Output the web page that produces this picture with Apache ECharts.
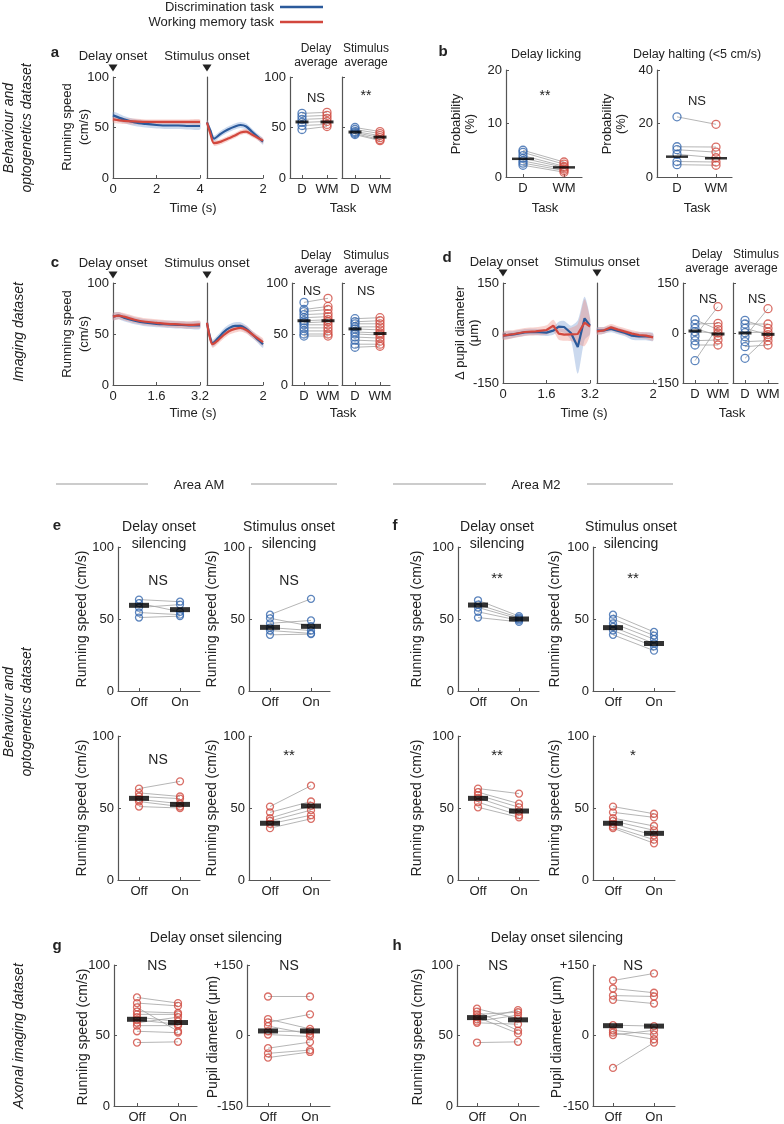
<!DOCTYPE html>
<html><head><meta charset="utf-8">
<script src="https://cdn.jsdelivr.net/npm/echarts@6.0.0/dist/echarts.min.js"></script>
<style>html,body{margin:0;padding:0;background:#fff}#c{width:784px;height:1124px}</style>
</head><body><div id="c"></div>
<script>
// ---------- DATA ----------
// Panel a: time courses (running speed, cm/s)
const aDelayT = [0, 0.5, 1, 1.5, 2, 2.5, 3, 3.5, 4];
const aDelayD = [62, 58, 55, 53.5, 52.5, 52, 52, 51.5, 51.5];
const aDelayDsem = [3.5, 3.5, 3.5, 3.5, 3.5, 3.5, 3.5, 3.5, 3.5];
const aDelayWM = [58, 56.5, 56, 55.5, 55.5, 55.5, 55.5, 55.5, 55.5];
const aDelayWMsem = [3, 3, 3, 2.5, 2.5, 2.5, 2.5, 2.5, 2.5];
const aStimT = [0, 0.12, 0.25, 0.5, 0.75, 1, 1.2, 1.4, 1.6, 1.8, 2];
const aStimD = [55, 47, 39, 44, 48, 51, 52.5, 51, 46, 41, 36];
const aStimDsem = [3, 3, 3, 3, 3, 3, 3, 3, 3, 3, 3];
const aStimWM = [55, 44, 34.5, 36, 39, 42, 45, 46, 43, 40, 37];
const aStimWMsem = [3, 3, 2.5, 2.5, 2.5, 2.5, 2.5, 2.5, 2.5, 2.5, 2.5];
// Panel a: averages (D, WM pairs)
const aDelayAvgD = [64, 61, 58, 55, 52, 48];
const aDelayAvgWM = [65, 62, 59, 56, 53, 51];
const aDelayAvgMean = [55.5, 55.5];
const aStimAvgD = [50, 48, 46, 45, 44, 43];
const aStimAvgWM = [46, 44, 42, 40, 38, 37];
const aStimAvgMean = [45.5, 40.5];
// Panel b: probability (%)
const bLickD = [5.0, 4.6, 4.0, 3.5, 3.0, 2.6, 2.2];
const bLickWM = [2.8, 2.4, 2.0, 1.8, 1.5, 1.2, 0.9];
const bLickMean = [3.4, 1.8];
const bHaltD = [22.5, 11.3, 10.2, 8.5, 5.8, 4.6];
const bHaltWM = [19.7, 11.2, 9.3, 7.2, 5.6, 4.4];
const bHaltMean = [7.6, 7.0];
// Panel c: time courses
const cDelayT = [0, 0.2, 0.4, 0.8, 1.2, 1.6, 2.0, 2.4, 2.8, 3.2];
const cDelayD = [67, 68, 66, 63, 61, 60, 59.5, 59, 58.5, 58.5];
const cDelayDsem = [3.5, 3.5, 3.5, 3.5, 3.5, 3.5, 3.5, 3.5, 3.5, 3.5];
const cDelayWM = [67, 68, 67, 64, 62, 61, 60, 59.5, 59, 59.5];
const cDelayWMsem = [3.5, 3.5, 3.5, 3.5, 3.5, 3.5, 3.5, 3.5, 3.5, 3.5];
const cStimT = [0, 0.1, 0.2, 0.4, 0.6, 0.8, 1.0, 1.2, 1.4, 1.6, 1.8, 2];
const cStimD = [61, 48, 41, 46, 52, 56, 58, 58, 55, 50, 45, 40];
const cStimDsem = [3.5, 3.5, 3.5, 3.5, 3.5, 3.5, 3.5, 3.5, 3.5, 3.5, 3.5, 3.5];
const cStimWM = [61, 47, 40, 44, 49, 53, 55, 56, 54, 50, 46, 42];
const cStimWMsem = [3.5, 3.5, 3.5, 3.5, 3.5, 3.5, 3.5, 3.5, 3.5, 3.5, 3.5, 3.5];
// Panel c: averages
const cDelayAvgD = [81, 74, 72, 69, 66, 63, 61, 59, 56, 53, 50, 48];
const cDelayAvgWM = [85, 77, 74, 70, 67, 64, 62, 59, 56, 53, 50, 48];
const cDelayAvgMean = [63, 63];
const cStimAvgD = [65, 62, 60, 57, 55, 52, 50, 47, 44, 40, 37];
const cStimAvgWM = [66, 63, 60, 57, 54, 51, 49, 46, 43, 40, 38];
const cStimAvgMean = [55, 50.5];
// Panel d: pupil diameter time courses (µm)
const dDelayT = [0, 0.4, 0.8, 1.2, 1.6, 1.85, 2.05, 2.25, 2.5, 2.75, 3.0, 3.2];
const dDelayD = [-8, -4, 2, 3, 1, 7, 19, 18, 0, -42, 44, 22];
const dDelayDsem = [10, 10, 10, 10, 10, 12, 15, 18, 22, 80, 65, 25];
const dDelayWM = [-8, -3, 3, 5, 9, 22, -2, -5, -4, -3, 31, 19];
const dDelayWMsem = [12, 12, 12, 12, 14, 18, 18, 18, 20, 30, 70, 25];
const dStimT = [0, 0.25, 0.5, 0.75, 1.0, 1.25, 1.5, 1.75, 2];
const dStimD = [7, 8, 12, 6, 0, -8, -10, -10, -12];
const dStimDsem = [10, 10, 10, 10, 10, 12, 12, 12, 12];
const dStimWM = [5, 8, 17, 10, 4, -2, -6, -8, -13];
const dStimWMsem = [10, 10, 10, 10, 10, 10, 10, 10, 10];
// Panel d: averages
const dDelayAvgD = [40, 27, 14, 4, -9, -23, -36, -83];
const dDelayAvgWM = [10, 29, -8, 0, 79, -21, -36, 19];
const dDelayAvgMean = [6, -3];
const dStimAvgD = [38, 27, 14, 1, -11, -26, -41, -76];
const dStimAvgWM = [14, 27, -5, 3, 73, -23, -36, -11];
const dStimAvgMean = [0, -4];
// Panel e (Area AM): running speed, Off/On
const eDelayOff = [63.5, 61, 58, 54.5, 51];
const eDelayOn = [62, 55, 60, 53, 52];
const eDelayMean = [59.5, 56.5];
const eStimOff = [53, 50.5, 47, 44, 42, 39];
const eStimOn = [64, 45, 49, 42, 40, 39.5];
const eStimMean = [44.2, 44.9];
const eDelayOff2 = [63.5, 60.5, 58, 56, 54.5, 51];
const eDelayOn2 = [68.5, 58, 56.5, 53, 51, 50];
const eDelayMean2 = [56.7, 52.5];
const eStimOff2 = [51, 47, 43, 41, 39, 36];
const eStimOn2 = [65.5, 54.5, 51.5, 48.5, 45, 42.5];
const eStimMean2 = [39.4, 51.4];
// Panel f (Area M2)
const fDelayOff = [63, 60, 58, 55, 51];
const fDelayOn = [52, 51, 50, 49, 48];
const fDelayMean = [59.7, 50];
const fStimOff = [53, 50, 47, 44.5, 42, 39];
const fStimOn = [41, 38.5, 36, 33, 31, 28];
const fStimMean = [44, 33];
const fDelayOff2 = [63.5, 61, 59, 57, 54, 50.5];
const fDelayOn2 = [60, 53, 50.5, 47.5, 45, 43.5];
const fDelayMean2 = [56.7, 47.9];
const fStimOff2 = [51, 47, 43, 41, 39, 37, 36];
const fStimOn2 = [46, 43.5, 37.5, 34.5, 31, 28, 25.5];
const fStimMean2 = [39.4, 32.4];
// Panel g
const gRunOff = [77, 73, 70, 67, 65, 63, 61, 59, 57, 53, 45];
const gRunOn = [73, 71, 53, 66, 65, 60, 58, 63, 57, 52, 45.5];
const gRunMean = [61.5, 59.2];
const gPupOff = [83, 35, 28, 20, 9, 2, -27, -38, -47];
const gPupOn = [83, 14, 45, 3, 9, -2, -14, -31, -35];
const gPupMean = [9.7, 9.7];
// Panel h
const hRunOff = [69, 67, 65, 63, 61.5, 60, 59, 45];
const hRunOn = [62, 53.5, 66.5, 51.5, 68, 64.5, 58, 45.5];
const hRunMean = [62.7, 61.1];
const hPupOff = [117, 100, 85, 76, 22, 11, 6, 1, -69];
const hPupOn = [132, 91, 83, 68, 20, 2, -8, 11, -15];
const hPupMean = [20.9, 20];
// tick / category labels
const taskLabels = ['D', 'WM'];
const lightLabels = ['Off', 'On'];

// ---------- STYLE ----------
const FONT = '"Liberation Sans", Arial, sans-serif';
const TXT = '#222';
const BLUE = '#2b5a9b', RED = '#d2473d';
const BLUE_C = '#3567ad', RED_C = '#cf4a40';
const BLUE_BAND = 'rgba(125,160,212,0.40)', RED_BAND = 'rgba(236,140,130,0.38)';

const grids = [], xAxes = [], yAxes = [], series = [], graphic = [];

function merge(a, b) {
  for (const k in b) {
    const v = b[k];
    if (v && typeof v === 'object' && !Array.isArray(v) && a[k] && typeof a[k] === 'object' && !Array.isArray(a[k])) merge(a[k], v);
    else a[k] = v;
  }
  return a;
}
function baseAxis() {
  return {
    type: 'value', splitLine: { show: false },
    axisLine: { show: true, onZero: false, lineStyle: { color: '#555', width: 1.2 } },
    axisTick: { show: true, inside: true, length: 3, lineStyle: { color: '#555', width: 1 } },
    axisLabel: { color: TXT, fontSize: 13, fontFamily: FONT, margin: 5 }
  };
}
function addGrid(L, T, W, H, xo, yo) {
  const gi = grids.length;
  grids.push({ left: L, top: T, width: W, height: H });
  xAxes.push(merge(merge(baseAxis(), { gridIndex: gi, position: 'bottom' }), xo));
  yAxes.push(merge(merge(baseAxis(), { gridIndex: gi, position: 'left', axisLabel: { margin: 4 } }), yo));
  return gi;
}
// shaded band (mean ± sem) drawn as a polygon through the axes' own scales
function band(gi, t, mean, sem, color) {
  series.push({
    type: 'custom', coordinateSystem: 'cartesian2d', xAxisIndex: gi, yAxisIndex: gi, silent: true, z: 1,
    data: [[t[0], mean[0]]],
    renderItem: function (params, api) {
      const up = t.map((x, i) => api.coord([x, mean[i] + sem[i]]));
      const lo = t.map((x, i) => api.coord([x, mean[i] - sem[i]])).reverse();
      return { type: 'polygon', shape: { points: up.concat(lo), smooth: 0.25 }, style: { fill: color } };
    }
  });
}
function curve(gi, t, mean, color, smooth) {
  series.push({ type: 'line', xAxisIndex: gi, yAxisIndex: gi, data: t.map((x, i) => [x, mean[i]]),
    symbol: 'none', smooth: smooth, lineStyle: { color: color, width: 2.2 }, silent: true, z: 3 });
}
function timePanel(gi, t, d, dsem, wm, wmsem, smooth) {
  band(gi, t, d, dsem, BLUE_BAND);
  band(gi, t, wm, wmsem, RED_BAND);
  curve(gi, t, d, BLUE, smooth);
  curve(gi, t, wm, RED, smooth);
}
function pairPanel(g, yo, off, on, mean, cOff, cOn, names, sty) {
  const unit = g.P1 - g.P0;
  const min = -(g.P0 - g.L) / unit, max = 1 + (g.R - g.P1) / unit;
  const gi = addGrid(g.L, g.T, g.R - g.L, g.H,
    { min: min, max: max, axisLabel: { customValues: [0, 1], formatter: v => names[Math.round(v)] }, axisTick: { customValues: [0, 1] } }, yo);
  off.forEach((v, i) => series.push({ type: 'line', xAxisIndex: gi, yAxisIndex: gi, data: [[0, v], [1, on[i]]],
    symbol: 'none', silent: true, lineStyle: { color: '#a2a2a2', width: 0.8 }, z: 2 }));
  series.push({ type: 'scatter', xAxisIndex: gi, yAxisIndex: gi, data: off.map(v => [0, v]), symbol: 'circle', symbolSize: sty.r,
    itemStyle: { color: 'rgba(255,255,255,0)', borderColor: cOff, borderWidth: 1.3 }, silent: true, z: 3 });
  series.push({ type: 'scatter', xAxisIndex: gi, yAxisIndex: gi, data: on.map(v => [1, v]), symbol: 'circle', symbolSize: sty.r,
    itemStyle: { color: 'rgba(255,255,255,0)', borderColor: cOn, borderWidth: 1.3 }, silent: true, z: 3 });
  series.push({ type: 'scatter', xAxisIndex: gi, yAxisIndex: gi, data: [[0, mean[0]], [1, mean[1]]], symbol: 'rect',
    symbolSize: [sty.bw, sty.bh], itemStyle: { color: '#000' }, silent: true, z: 4 });
  return gi;
}
function txt(s, x, y, o) {
  o = o || {};
  const size = o.size || 13;
  graphic.push({ type: 'text', x: x, y: y, rotation: o.rot || 0, silent: true, z: 20,
    style: { text: s, fill: o.color || TXT, fontSize: size, fontFamily: FONT, fontStyle: o.italic ? 'italic' : 'normal',
      fontWeight: o.bold ? 'bold' : 'normal', align: o.align || 'center', verticalAlign: 'middle', lineHeight: o.lh || Math.round(size * 1.2) } });
}
function hline(x1, x2, y, color, w) {
  graphic.push({ type: 'line', silent: true, z: 20, shape: { x1: x1, y1: y, x2: x2, y2: y }, style: { stroke: color, lineWidth: w } });
}
function tri(x, y) {
  graphic.push({ type: 'polygon', silent: true, z: 20, shape: { points: [[x - 4.5, y - 3.5], [x + 4.5, y - 3.5], [x, y + 3.5]] }, style: { fill: '#222' } });
}

const y100 = { min: 0, max: 100, interval: 50 };
const y100n = { min: 0, max: 100, interval: 50, axisLabel: { show: false } };
const ySmall = { r: 8, bw: 13, bh: 3 };
const yBig = { r: 7, bw: 20, bh: 5 };

// ---------- Panel a ----------
let gi = addGrid(113, 77, 87, 101, { min: 0, max: 4, interval: 2 }, y100);
timePanel(gi, aDelayT, aDelayD, aDelayDsem, aDelayWM, aDelayWMsem, 0.3);
gi = addGrid(207, 77, 56, 101, { min: 0, max: 2, interval: 2, axisLabel: { showMinLabel: false } }, { min: 0, max: 100, interval: 50, axisLabel: { show: false }, axisTick: { show: false } });
timePanel(gi, aStimT, aStimD, aStimDsem, aStimWM, aStimWMsem, 0.3);
pairPanel({ L: 290, P0: 302, P1: 327, R: 337, T: 77, H: 101 }, y100, aDelayAvgD, aDelayAvgWM, aDelayAvgMean, BLUE_C, RED_C, taskLabels, ySmall);
pairPanel({ L: 342, P0: 355, P1: 380, R: 390, T: 77, H: 101 }, y100n, aStimAvgD, aStimAvgWM, aStimAvgMean, BLUE_C, RED_C, taskLabels, ySmall);

// ---------- Panel b ----------
pairPanel({ L: 506, P0: 523, P1: 564, R: 582, T: 70, H: 107 }, { min: 0, max: 20, interval: 10 }, bLickD, bLickWM, bLickMean, BLUE_C, RED_C, taskLabels, { r: 8, bw: 22, bh: 2.5 });
pairPanel({ L: 657, P0: 677, P1: 716, R: 732, T: 70, H: 107 }, { min: 0, max: 40, interval: 20 }, bHaltD, bHaltWM, bHaltMean, BLUE_C, RED_C, taskLabels, { r: 8, bw: 22, bh: 2.5 });

// ---------- Panel c ----------
gi = addGrid(113, 283, 87, 102, { min: 0, max: 3.2, interval: 1.6 }, y100);
timePanel(gi, cDelayT, cDelayD, cDelayDsem, cDelayWM, cDelayWMsem, 0.3);
gi = addGrid(207, 283, 56, 102, { min: 0, max: 2, interval: 2, axisLabel: { showMinLabel: false } }, { min: 0, max: 100, interval: 50, axisLabel: { show: false }, axisTick: { show: false } });
timePanel(gi, cStimT, cStimD, cStimDsem, cStimWM, cStimWMsem, 0.3);
pairPanel({ L: 292, P0: 304, P1: 328, R: 338, T: 283, H: 102 }, y100, cDelayAvgD, cDelayAvgWM, cDelayAvgMean, BLUE_C, RED_C, taskLabels, ySmall);
pairPanel({ L: 342, P0: 355, P1: 380, R: 390, T: 283, H: 102 }, y100n, cStimAvgD, cStimAvgWM, cStimAvgMean, BLUE_C, RED_C, taskLabels, ySmall);

// ---------- Panel d ----------
const y150 = { min: -150, max: 150, interval: 150 };
gi = addGrid(503, 283, 87, 100, { min: 0, max: 3.2, interval: 1.6 }, y150);
timePanel(gi, dDelayT, dDelayD, dDelayDsem, dDelayWM, dDelayWMsem, false);
gi = addGrid(597, 283, 56, 100, { min: 0, max: 2, interval: 2, axisLabel: { showMinLabel: false } }, { min: -150, max: 150, interval: 150, axisLabel: { show: false }, axisTick: { show: false } });
timePanel(gi, dStimT, dStimD, dStimDsem, dStimWM, dStimWMsem, false);
pairPanel({ L: 683, P0: 695, P1: 718, R: 728, T: 283, H: 100 }, y150, dDelayAvgD, dDelayAvgWM, dDelayAvgMean, BLUE_C, RED_C, taskLabels, ySmall);
pairPanel({ L: 733, P0: 745, P1: 768, R: 778, T: 283, H: 100 }, { min: -150, max: 150, interval: 150, axisLabel: { show: false } }, dStimAvgD, dStimAvgWM, dStimAvgMean, BLUE_C, RED_C, taskLabels, ySmall);

// ---------- Panels e, f ----------
pairPanel({ L: 118, P0: 139, P1: 180, R: 200, T: 547, H: 144 }, y100, eDelayOff, eDelayOn, eDelayMean, BLUE_C, BLUE_C, lightLabels, yBig);
pairPanel({ L: 249, P0: 270, P1: 311, R: 330, T: 547, H: 144 }, y100, eStimOff, eStimOn, eStimMean, BLUE_C, BLUE_C, lightLabels, yBig);
pairPanel({ L: 118, P0: 139, P1: 180, R: 200, T: 736, H: 144 }, y100, eDelayOff2, eDelayOn2, eDelayMean2, RED_C, RED_C, lightLabels, yBig);
pairPanel({ L: 249, P0: 270, P1: 311, R: 330, T: 736, H: 144 }, y100, eStimOff2, eStimOn2, eStimMean2, RED_C, RED_C, lightLabels, yBig);
pairPanel({ L: 458, P0: 478, P1: 519, R: 539, T: 547, H: 144 }, y100, fDelayOff, fDelayOn, fDelayMean, BLUE_C, BLUE_C, lightLabels, yBig);
pairPanel({ L: 593, P0: 613, P1: 654, R: 675, T: 547, H: 144 }, y100, fStimOff, fStimOn, fStimMean, BLUE_C, BLUE_C, lightLabels, yBig);
pairPanel({ L: 458, P0: 478, P1: 519, R: 539, T: 736, H: 144 }, y100, fDelayOff2, fDelayOn2, fDelayMean2, RED_C, RED_C, lightLabels, yBig);
pairPanel({ L: 593, P0: 613, P1: 654, R: 675, T: 736, H: 144 }, y100, fStimOff2, fStimOn2, fStimMean2, RED_C, RED_C, lightLabels, yBig);

// ---------- Panels g, h ----------
const yPup = { min: -150, max: 150, interval: 150, axisLabel: { formatter: v => (v > 0 ? '+' + v : String(v)) } };
pairPanel({ L: 114, P0: 137, P1: 178, R: 197, T: 965, H: 143 }, y100, gRunOff, gRunOn, gRunMean, RED_C, RED_C, lightLabels, yBig);
pairPanel({ L: 247, P0: 268, P1: 310, R: 330, T: 965, H: 143 }, yPup, gPupOff, gPupOn, gPupMean, RED_C, RED_C, lightLabels, yBig);
pairPanel({ L: 457, P0: 477, P1: 518, R: 539, T: 965, H: 143 }, y100, hRunOff, hRunOn, hRunMean, RED_C, RED_C, lightLabels, yBig);
pairPanel({ L: 593, P0: 613, P1: 654, R: 675, T: 965, H: 143 }, yPup, hPupOff, hPupOn, hPupMean, RED_C, RED_C, lightLabels, yBig);

// ---------- Texts ----------
const ROT = Math.PI / 2;
// legend
txt('Discrimination task', 274, 7, { align: 'right' });
txt('Working memory task', 274, 22, { align: 'right' });
hline(280, 323, 7, BLUE, 2.5);
hline(280, 323, 22, RED, 2.5);
// panel letters
[['a', 55, 53], ['b', 443, 52], ['c', 55, 263], ['d', 447, 258], ['e', 57, 526], ['f', 395, 526], ['g', 57, 946], ['h', 397, 946]]
  .forEach(p => txt(p[0], p[1], p[2], { size: 15, bold: true }));
// row labels
txt('Behaviour and\noptogenetics dataset', 18, 128, { size: 14, italic: true, rot: ROT, lh: 18 });
txt('Imaging dataset', 19, 332, { size: 14, italic: true, rot: ROT });
txt('Behaviour and\noptogenetics dataset', 18, 712, { size: 14, italic: true, rot: ROT, lh: 18 });
txt('Axonal imaging dataset', 19, 1036, { size: 14, italic: true, rot: ROT });
// panel a
txt('Delay onset', 113, 56); txt('Stimulus onset', 207, 56); tri(113, 68); tri(207, 68);
txt('Running speed\n(cm/s)', 76, 127, { rot: ROT, lh: 17 });
txt('Delay\naverage', 316, 56, { size: 12, lh: 14 }); txt('Stimulus\naverage', 366, 56, { size: 12, lh: 14 });
txt('NS', 316, 98); txt('**', 366, 96, { size: 14 });
txt('Time (s)', 193, 208); txt('Task', 343, 208);
// panel b
txt('Delay licking', 546, 55, { size: 12.5 }); txt('Delay halting (<5 cm/s)', 697, 55, { size: 12.5 });
txt('Probability\n(%)', 463, 124, { rot: ROT, lh: 14 }); txt('Probability\n(%)', 614, 124, { rot: ROT, lh: 14 });
txt('**', 545, 96, { size: 14 }); txt('NS', 697, 101);
txt('Task', 545, 208); txt('Task', 697, 208);
// panel c
txt('Delay onset', 113, 263); txt('Stimulus onset', 207, 263); tri(113, 275); tri(207, 275);
txt('Running speed\n(cm/s)', 76, 334, { rot: ROT, lh: 17 });
txt('Delay\naverage', 316, 263, { size: 12, lh: 14 }); txt('Stimulus\naverage', 366, 263, { size: 12, lh: 14 });
txt('NS', 312, 291); txt('NS', 366, 291);
txt('Time (s)', 193, 413); txt('Task', 343, 413);
// panel d
txt('Delay onset', 504, 262); txt('Stimulus onset', 597, 262); tri(503, 273); tri(597, 273);
txt('\u0394 pupil diameter\n(\u03bcm)', 467, 333, { rot: ROT, lh: 14 });
txt('Delay\naverage', 707, 262, { size: 12, lh: 14 }); txt('Stimulus\naverage', 756, 262, { size: 12, lh: 14 });
txt('NS', 708, 299); txt('NS', 757, 299);
txt('Time (s)', 584, 413); txt('Task', 732, 413);
// area headers
hline(56, 148, 484, '#999', 1); txt('Area AM', 199, 485); hline(251, 337, 484, '#999', 1);
hline(393, 486, 484, '#999', 1); txt('Area M2', 536, 485); hline(587, 673, 484, '#999', 1);
// panel e / f titles
txt('Delay onset\nsilencing', 159, 536, { size: 14, lh: 17 }); txt('Stimulus onset\nsilencing', 289, 536, { size: 14, lh: 17 });
txt('Delay onset\nsilencing', 497, 536, { size: 14, lh: 17 }); txt('Stimulus onset\nsilencing', 631, 536, { size: 14, lh: 17 });
[[82, 619], [212, 619], [82, 808], [212, 808], [417, 619], [555, 619], [417, 808], [555, 808]]
  .forEach(p => txt('Running speed (cm/s)', p[0], p[1], { size: 14, rot: ROT }));
txt('NS', 158, 581, { size: 14 }); txt('NS', 289, 581, { size: 14 });
txt('**', 497, 579, { size: 15 }); txt('**', 633, 579, { size: 15 });
txt('NS', 158, 760, { size: 14 }); txt('**', 289, 756, { size: 15 });
txt('**', 497, 756, { size: 15 }); txt('*', 633, 756, { size: 15 });
// panel g / h
txt('Delay onset silencing', 216, 938, { size: 14 }); txt('Delay onset silencing', 557, 938, { size: 14 });
txt('Running speed (cm/s)', 83, 1037, { size: 14, rot: ROT }); txt('Pupil diameter (\u03bcm)', 213, 1037, { size: 14, rot: ROT });
txt('Running speed (cm/s)', 418, 1037, { size: 14, rot: ROT }); txt('Pupil diameter (\u03bcm)', 557, 1037, { size: 14, rot: ROT });
txt('NS', 157, 966, { size: 14 }); txt('NS', 289, 966, { size: 14 });
txt('NS', 498, 966, { size: 14 }); txt('NS', 633, 966, { size: 14 });

const chart = echarts.init(document.getElementById('c'), null, { renderer: 'canvas' });
chart.setOption({
  animation: false,
  backgroundColor: '#fff',
  textStyle: { fontFamily: FONT },
  grid: grids, xAxis: xAxes, yAxis: yAxes, series: series, graphic: graphic
});
</script></body></html>
